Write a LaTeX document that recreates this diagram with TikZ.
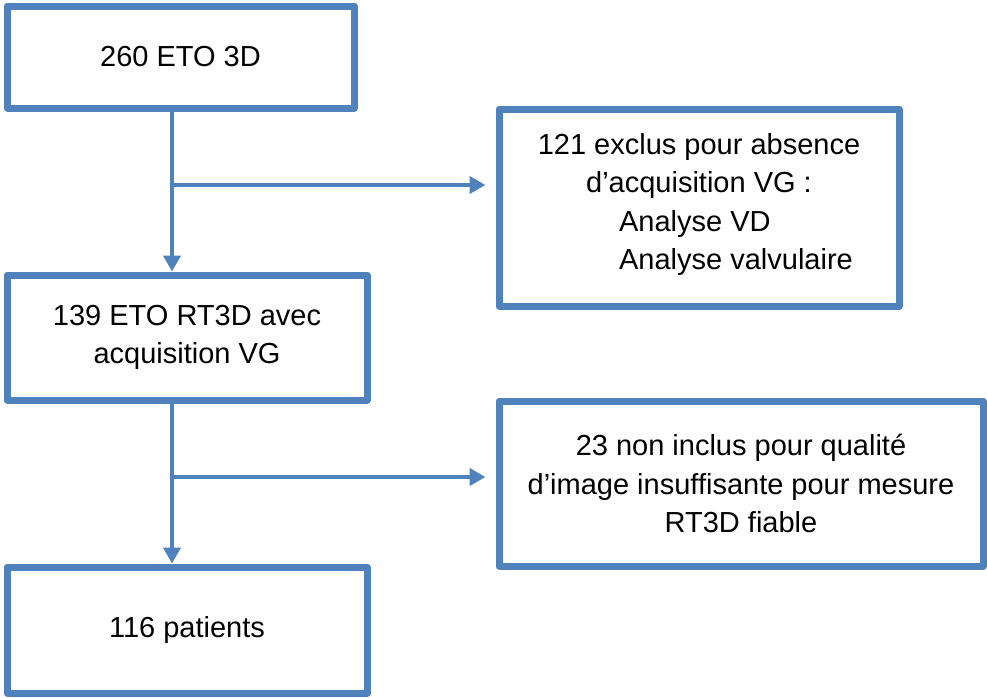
\documentclass[tikz,border=0pt]{standalone}
\usepackage{fontspec}
\setmainfont{Liberation Sans}
\usepackage{xcolor}
\usepackage{tikz}
\usetikzlibrary{arrows.meta}
\definecolor{bleu}{HTML}{4F81BD}

\begin{document}
\begin{tikzpicture}[x=1pt,y=-1pt,
  boite/.style={draw=bleu, line width=7pt, line join=round, align=center, inner sep=0pt, font=\fontsize{29}{38.5}\selectfont},
  fleche/.style={draw=bleu, line width=4pt, -{Triangle[length=16pt,width=17pt]}}]
\useasboundingbox (0,0) rectangle (987,697);

% colonne gauche
\node (eto) at (180.5,57) [boite, minimum width=347pt, minimum height=102pt] {260 ETO 3D};
\node (acq) at (187,337.5) [boite, minimum width=360pt, minimum height=125pt] {139 ETO RT3D avec\\acquisition VG};
\node (pat) at (187,630) [boite, minimum width=360pt, minimum height=126pt] {116 patients};

% colonne droite - exclus
\node (excl) at (699,207.5) [boite, minimum width=400pt, minimum height=197pt] {121 exclus pour absence\\d’acquisition VG :\\\hspace*{74pt}\begin{tabular}[t]{@{}l@{}}Analyse VD\\Analyse valvulaire\end{tabular}};
\node (noninc) at (741,483.5) [boite, minimum width=484pt, minimum height=165pt] {23 non inclus pour qualité\\d’image insuffisante pour mesure\\RT3D fiable};

% fleches
\coordinate (b1) at (172,185);
\coordinate (b2) at (172,477);
\draw[fleche] (eto.south -| b1) -- (acq.north -| b1);
\draw[fleche] (acq.south -| b2) -- (pat.north -| b2);
\draw[fleche, shorten >=10pt] (b1) -- (b1 -| excl.west);
\draw[fleche, shorten >=10pt] (b2) -- (b2 -| noninc.west);
\end{tikzpicture}
\end{document}
